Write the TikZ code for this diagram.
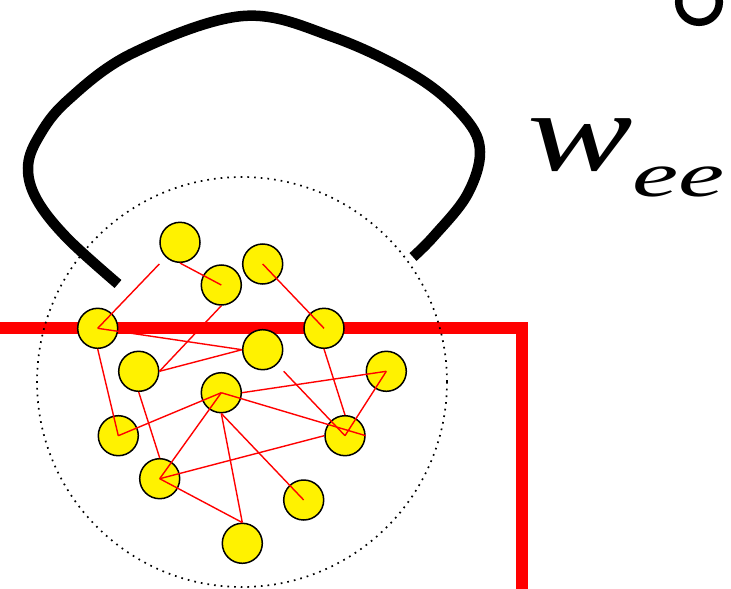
\documentclass[tikz,border=0pt]{standalone}
\usepackage{fontspec}
\newfontfamily\tnr{Liberation Serif}
\begin{document}
\begin{tikzpicture}[x=1pt,y=-1pt,
  ball/.style={circle,draw=black,fill=yellow,line width=1.5pt,minimum size=40pt,inner sep=0pt},
  link/.style={red,line width=1.4pt},
  band/.style={red,line width=12pt,line join=miter},
  loopline/.style={black,line width=10.5pt,line cap=butt},
  dotring/.style={black,line width=1.7pt,dash pattern=on 1.7pt off 5pt}]
\useasboundingbox (0,0) rectangle (731,589);
% thick red border line
\coordinate (b1) at (-6,328);
\coordinate (b2) at (521.5,328);
\coordinate (b3) at (521.5,596);
\draw[band] (b1) -- (b2) -- (b3);
% dotted circle
\coordinate (dc) at (242,382);
\draw[dotring] (dc) circle (205);
% black loop
\draw[loopline] plot[smooth,tension=0.6] coordinates {(118,284) (67,238) (37,200) (28,168) (38,138) (67,101) (133,53) (243,16) (333,37) (417,77) (465,118) (480,152) (467,195) (434,236) (413,257)};
% partial ring at top right
\begin{scope}
\clip (0,0) rectangle (731,589);
\coordinate (rc) at (699,2);
\draw[black,line width=7.5pt] (rc) circle (20.3);
\end{scope}
% label
\node[anchor=base west,inner sep=0pt] (wlab) at (527,170.5) {\scalebox{1.4}[1]{\fontsize{113}{113}\selectfont\tnr\itshape w}};
\node[anchor=base west,inner sep=0pt] (elab) at (632,196) {\scalebox{1.65}[1]{\fontsize{63}{63}\selectfont\tnr\itshape ee}};
% balls
\node[ball] (c1) at (180,242.3) {};
\node[ball] (c2) at (221.3,285) {};
\node[ball] (c3) at (262.7,264) {};
\node[ball] (c4) at (97.7,328.3) {};
\node[ball] (c5) at (324,328.3) {};
\node[ball] (c6) at (262.7,349.7) {};
\node[ball] (c7) at (138.7,371.3) {};
\node[ball] (c8) at (386.3,371.3) {};
\node[ball] (c9) at (221.3,392.7) {};
\node[ball] (c10) at (118.3,435.7) {};
\node[ball] (c11) at (345,435.7) {};
\node[ball] (c12) at (159.7,478.7) {};
\node[ball] (c13) at (303.7,500) {};
\node[ball] (c14) at (242.3,543.3) {};
% free ends
\coordinate (p1) at (159.3,264);
\coordinate (p2) at (283.7,371.3);
% links
\draw[link] (p1) -- (c4.center);
\draw[link] (c1.south) -- (c2.center);
\draw[link] (c2.south) -- (c7.east);
\draw[link] (c3.center) -- (c5.center);
\draw[link] (c4.center) -- (c6.west);
\draw[link] (c6.west) -- (c7.east);
\draw[link] (c4.south) -- (c10.center);
\draw[link] (c10.center) -- (c9.center);
\draw[link] (c9.center) -- (c11.east);
\draw[link] (c9.east) -- (c8.center);
\draw[link] (c8.center) -- (c11.center);
\draw[link] (p2) -- (c11.center);
\draw[link] (c5.south) -- (c11.north);
\draw[link] (c7.south) -- (c12.north);
\draw[link] (c12.center) -- (c9.center);
\draw[link] (c12.center) -- (c11.west);
\draw[link] (c12.center) -- (c14.north);
\draw[link] (c9.south) -- (c14.north);
\draw[link] (c9.south) -- (c13.center);
\end{tikzpicture}
\end{document}
